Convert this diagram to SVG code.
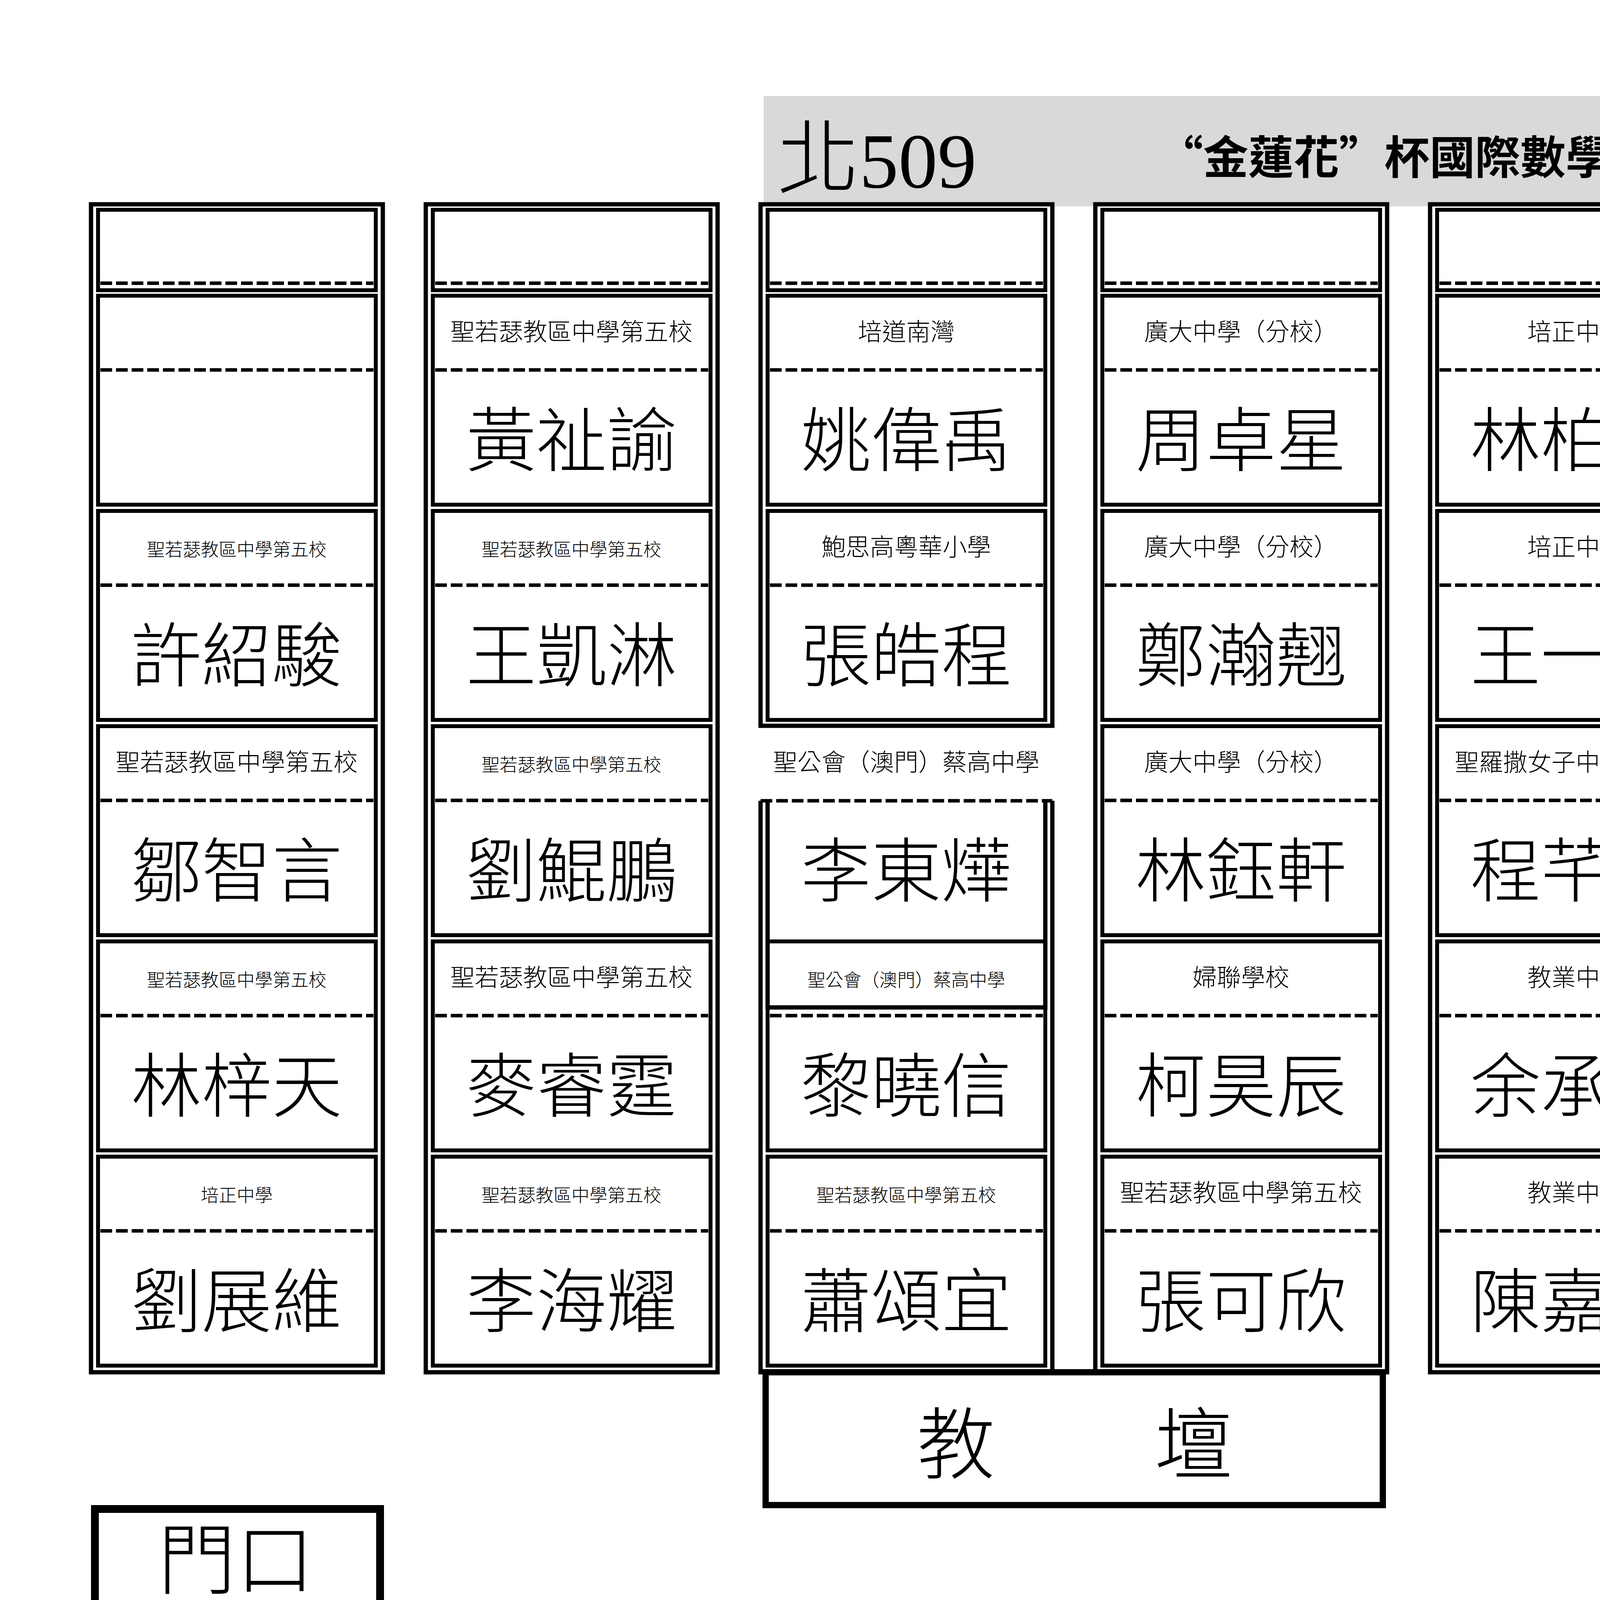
<svg xmlns="http://www.w3.org/2000/svg" width="7016" height="4961" viewBox="0 0 7016 4961">
<style>
.o{fill:none;stroke:#000;stroke-width:11}
.c{fill:none;stroke:#000;stroke-width:10}
.d{stroke:#000;stroke-width:9;stroke-dasharray:30 10}
.s{font-family:"Noto Sans CJK TC",sans-serif;font-size:62px;font-weight:300;text-anchor:middle}
.ss{font-family:"Noto Sans CJK TC",sans-serif;font-size:46px;font-weight:300;text-anchor:middle}
.n{font-family:"Noto Sans CJK TC",sans-serif;font-size:180px;font-weight:300;text-anchor:middle}
</style>
<rect width="7016" height="4961" fill="#fff"/>
<g id="title">
<rect x="1955" y="246" width="3307" height="282" fill="#d9d9d9"/>
<text x="1990" y="480" font-family="Noto Sans CJK TC,sans-serif" font-weight="300" font-size="210">北<tspan font-family="Liberation Serif,serif" font-size="200">509</tspan></text>
<text x="3660" y="445" font-family="Noto Sans CJK TC,sans-serif" font-weight="bold" font-size="116" text-anchor="middle">“金蓮花”杯國際數學比賽</text>
<text x="4884" y="470" font-family="Noto Sans CJK TC,sans-serif" font-weight="bold" font-size="210" text-anchor="middle">小二級</text>
</g>
<defs>
<g id="cell"><rect x="18" y="0" width="711" height="535" class="c"/><line x1="24" y1="190" x2="723" y2="190" class="d"/></g>
<g id="col"><rect x="0" y="0" width="747" height="2990" class="o"/><rect x="18" y="14" width="711" height="206" class="c"/><line x1="24" y1="202" x2="723" y2="202" class="d"/>
<use href="#cell" y="234"/><use href="#cell" y="785"/><use href="#cell" y="1336"/><use href="#cell" y="1887"/><use href="#cell" y="2438"/></g>
</defs>
<g id="col1" transform="translate(233,523)"><use href="#col"/>
<text class="ss" x="373" y="900">聖若瑟教區中學第五校</text><text class="n" x="373" y="1220">許紹駿</text>
<text class="s" x="373" y="1451">聖若瑟教區中學第五校</text><text class="n" x="373" y="1771">鄒智言</text>
<text class="ss" x="373" y="2002">聖若瑟教區中學第五校</text><text class="n" x="373" y="2322">林梓天</text>
<text class="ss" x="373" y="2553">培正中學</text><text class="n" x="373" y="2873">劉展維</text></g>
<g id="col2" transform="translate(1090,523)"><use href="#col"/>
<text class="s" x="373" y="349">聖若瑟教區中學第五校</text><text class="n" x="373" y="669">黃祉諭</text>
<text class="ss" x="373" y="900">聖若瑟教區中學第五校</text><text class="n" x="373" y="1220">王凱淋</text>
<text class="ss" x="373" y="1451">聖若瑟教區中學第五校</text><text class="n" x="373" y="1771">劉鯤鵬</text>
<text class="s" x="373" y="2002">聖若瑟教區中學第五校</text><text class="n" x="373" y="2322">麥睿霆</text>
<text class="ss" x="373" y="2553">聖若瑟教區中學第五校</text><text class="n" x="373" y="2873">李海耀</text></g>
<g id="col3" transform="translate(1947,523)">
<rect x="0" y="0" width="747" height="1335" class="o"/><rect x="18" y="14" width="711" height="206" class="c"/><line x1="24" y1="202" x2="723" y2="202" class="d"/>
<use href="#cell" y="234"/><use href="#cell" y="785"/>
<path d="M0 1527V2990H747V1527M18 1527V2056H729V1527" class="o"/>
<line x1="0" y1="1527" x2="747" y2="1527" class="d"/>
<use href="#cell" y="1887"/><use href="#cell" y="2438"/>
<text class="s" x="373" y="349">培道南灣</text><text class="n" x="373" y="669">姚偉禹</text>
<text class="s" x="373" y="900">鮑思高粵華小學</text><text class="n" x="373" y="1220">張皓程</text>
<text class="s" x="373" y="1451">聖公會（澳門）蔡高中學</text><text class="n" x="373" y="1771">李東燁</text>
<text class="ss" x="373" y="2002">聖公會（澳門）蔡高中學</text><text class="n" x="373" y="2322">黎曉信</text>
<text class="ss" x="373" y="2553">聖若瑟教區中學第五校</text><text class="n" x="373" y="2873">蕭頌宜</text></g>
<g id="col4" transform="translate(2804,523)"><use href="#col"/>
<text class="s" x="373" y="349">廣大中學（分校）</text><text class="n" x="373" y="669">周卓星</text>
<text class="s" x="373" y="900">廣大中學（分校）</text><text class="n" x="373" y="1220">鄭瀚翹</text>
<text class="s" x="373" y="1451">廣大中學（分校）</text><text class="n" x="373" y="1771">林鈺軒</text>
<text class="s" x="373" y="2002">婦聯學校</text><text class="n" x="373" y="2322">柯昊辰</text>
<text class="s" x="373" y="2553">聖若瑟教區中學第五校</text><text class="n" x="373" y="2873">張可欣</text></g>
<g id="col5" transform="translate(3661,523)"><use href="#col"/>
<text class="s" x="373" y="349">培正中學</text><text class="n" x="373" y="669">林柏諭</text>
<text class="s" x="373" y="900">培正中學</text><text class="n" x="373" y="1220">王一心</text>
<text class="s" x="373" y="1451">聖羅撒女子中學中文部</text><text class="n" x="373" y="1771">程芊菀</text>
<text class="s" x="373" y="2002">教業中學</text><text class="n" x="373" y="2322">余承昊</text>
<text class="s" x="373" y="2553">教業中學</text><text class="n" x="373" y="2873">陳嘉謙</text></g>
<g id="col6" transform="translate(4518,523)"><use href="#col"/>
<text class="s" x="373" y="900">培正中學</text><text class="n" x="373" y="1220">岑柏宏</text>
<text class="s" x="373" y="1451">培正中學</text><text class="n" x="373" y="1771">何思穎</text>
<text class="s" x="373" y="2002">培正中學</text><text class="n" x="373" y="2322">歐宇禧</text>
<text class="s" x="373" y="2553">培正中學</text><text class="n" x="373" y="2873">曹榮君</text></g>
<g id="col7" transform="translate(5375,523)"><use href="#col"/>
<text class="s" x="373" y="900">培正中學</text><text class="n" x="373" y="1220">朱子喻</text>
<text class="s" x="373" y="1451">培正中學</text><text class="n" x="373" y="1771">黃致灃</text>
<text class="s" x="373" y="2002">培正中學</text><text class="n" x="373" y="2322">區叡正</text>
<text class="s" x="373" y="2553">培正中學</text><text class="n" x="373" y="2873">楊梓清</text></g>
<g id="desk">
<rect x="1960" y="3513" width="1580" height="340" fill="none" stroke="#000" stroke-width="16"/>
<text x="2447" y="3770" font-family="Noto Sans CJK TC,sans-serif" font-weight="300" font-size="200" text-anchor="middle">教</text>
<text x="3056" y="3770" font-family="Noto Sans CJK TC,sans-serif" font-weight="300" font-size="200" text-anchor="middle">壇</text>
</g>
<g id="door">
<rect x="243" y="3863" width="730" height="258" fill="none" stroke="#000" stroke-width="20"/>
<text x="604" y="4065" font-family="Noto Sans CJK TC,sans-serif" font-weight="300" font-size="200" text-anchor="middle">門口</text>
</g>
<g id="connectors"/>
</svg>
